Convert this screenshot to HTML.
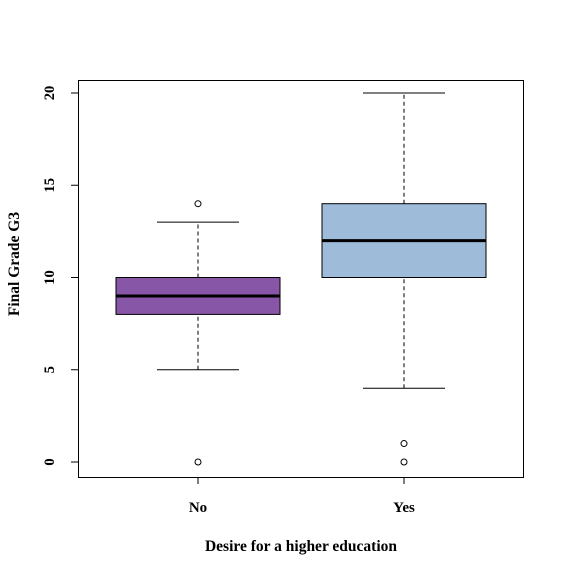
<!DOCTYPE html>
<html><head><meta charset="utf-8"><style>
body{margin:0;background:#fff}
svg{display:block;font-family:"Liberation Serif",serif;font-weight:bold}
</style></head><body>
<svg id="chart" width="564" height="575" viewBox="0 0 564 575">
<rect x="0" y="0" width="564" height="575" fill="#fff"/>
<rect x="78.5" y="80.5" width="445" height="397" fill="none" stroke="#000" stroke-width="1"/>
<text x="301" y="551" font-size="15.5" text-anchor="middle">Desire for a higher education</text>
<text transform="translate(19,264) rotate(-90)" font-size="15.5" text-anchor="middle">Final Grade G3</text>
<g id="marks"></g>
</svg>
<script>
const categories = ["No", "Yes"];
const whiskerLow = [5, 4];
const q1 = [8, 10];
const medians = [9, 12];
const q3 = [10, 14];
const whiskerHigh = [13, 20];
const outliers = [[14, 0], [1, 0]];
const colors = ["#8856a7", "#9ebcda"];
const yTicks = [0, 5, 10, 15, 20];

const NS = "http://www.w3.org/2000/svg";
const g = document.getElementById("marks");
function y(v){ return 462 - v * 18.45; }
function xc(i){ return 198 + i * 206; }
function mk(tag, attrs){
  const e = document.createElementNS(NS, tag);
  for (const k in attrs) e.setAttribute(k, attrs[k]);
  g.appendChild(e);
  return e;
}
yTicks.forEach(t => {
  const l = mk("line", {x1:71, x2:78, y1:y(t), y2:y(t), stroke:"#000"});
  
  
  const tx = mk("text", {transform:`translate(54,${y(t)}) rotate(-90)`, "font-size":14.5, "text-anchor":"middle"});
  tx.textContent = t;
  
  
});
categories.forEach((c, i) => {
  const x = xc(i);
  const tk = mk("line", {x1:x, x2:x, y1:477, y2:484, stroke:"#000"});
  
  
  const lab = mk("text", {x:x, y:512, "font-size":15, "text-anchor":"middle"});
  lab.textContent = c;
  
  
  const w1 = mk("line", {x1:x, x2:x, y1:y(whiskerLow[i]), y2:y(q1[i]), stroke:"#000", "stroke-dasharray":"4,3"});
  
  
  const w2 = mk("line", {x1:x, x2:x, y1:y(q3[i]), y2:y(whiskerHigh[i]), stroke:"#000", "stroke-dasharray":"4,3"});
  
  
  const c1 = mk("line", {x1:x-41, x2:x+41, y1:y(whiskerLow[i]), y2:y(whiskerLow[i]), stroke:"#000"});
  
  
  const c2 = mk("line", {x1:x-41, x2:x+41, y1:y(whiskerHigh[i]), y2:y(whiskerHigh[i]), stroke:"#000"});
  
  
  const b = mk("rect", {x:x-82, y:y(q3[i]), width:164, height:y(q1[i])-y(q3[i]), fill:colors[i], stroke:"#000"});
  
  
  const m = mk("line", {x1:x-82, x2:x+82, y1:y(medians[i]), y2:y(medians[i]), stroke:"#000", "stroke-width":3});
  
  
  outliers[i].forEach(o => {
    const p = mk("circle", {cx:x, cy:y(o), r:3, fill:"none", stroke:"#000"});
    
    
  });
});
</script>
</body></html>
